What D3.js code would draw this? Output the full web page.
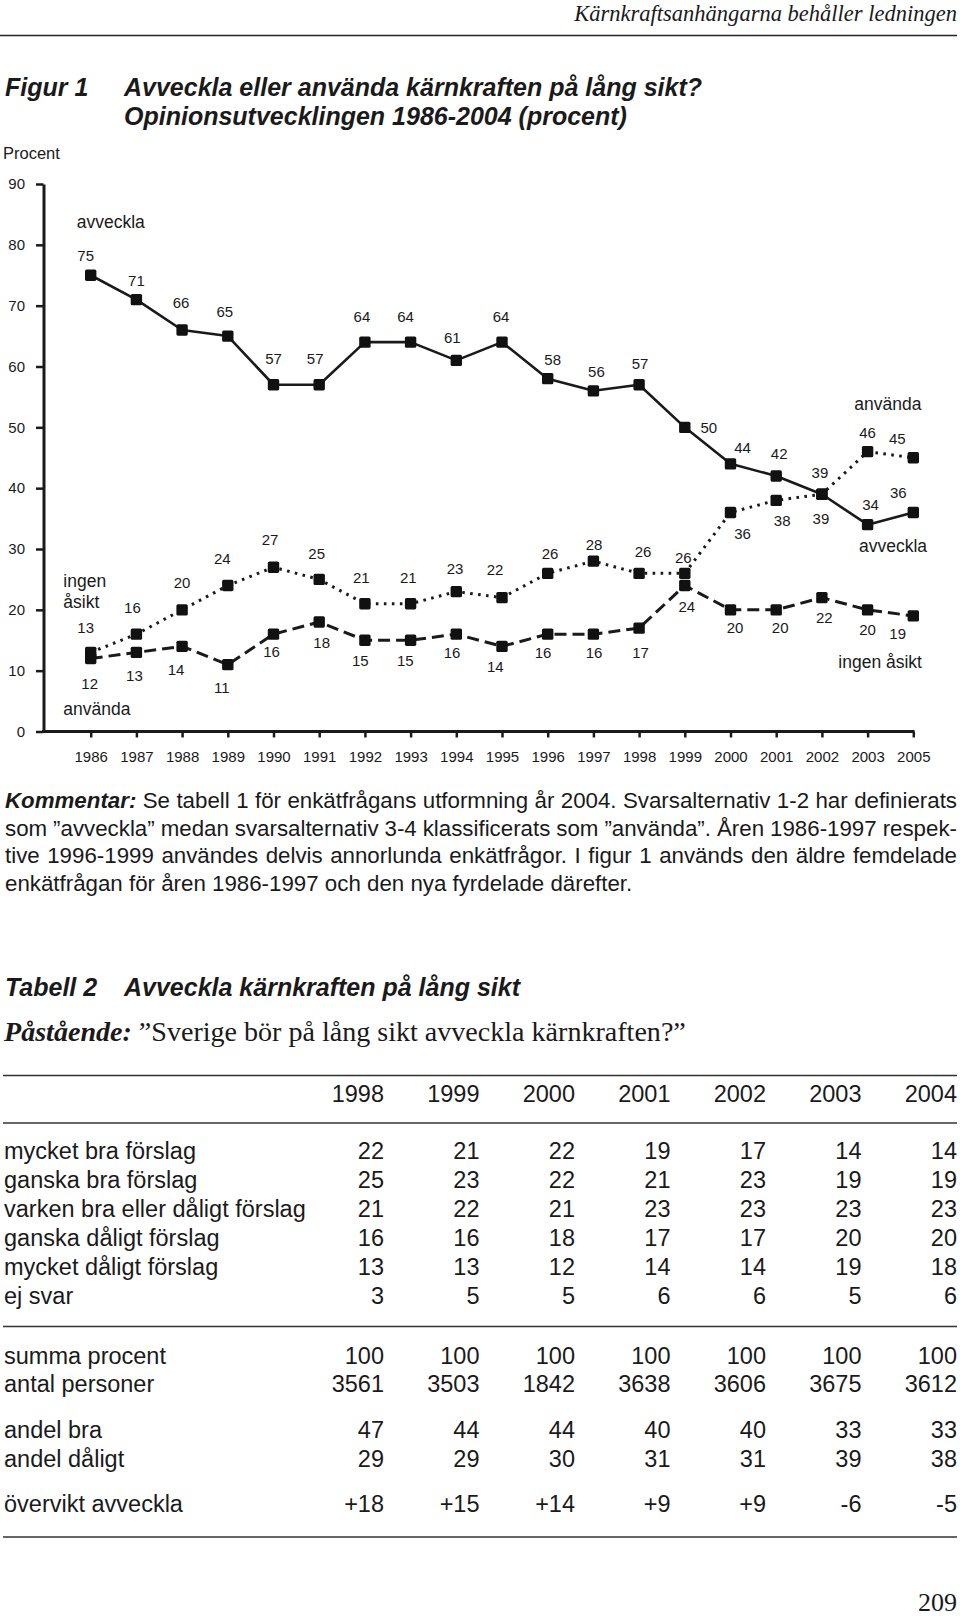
<!DOCTYPE html>
<html><head><meta charset="utf-8">
<script src="https://cdn.jsdelivr.net/npm/d3@7"></script>
<style>
html,body{margin:0;padding:0;background:#fff;}
svg{display:block;}
</style></head>
<body>
<svg id="page" width="960" height="1618"></svg>
<script>
// ---------- DATA ----------
const years = ['1986','1987','1988','1989','1990','1991','1992','1993','1994','1995','1996','1997','1998','1999','2000','2001','2002','2003','2005'];
const avveckla   = [75,71,66,65,57,57,64,64,61,64,58,56,57,50,44,42,39,34,36];
const anvanda    = [13,16,20,24,27,25,21,21,23,22,26,28,26,26,36,38,39,46,45];
const ingenAsikt = [12,13,14,11,16,18,15,15,16,14,16,16,17,24,20,20,22,20,19];
const yTicks = [0,10,20,30,40,50,60,70,80,90];

// label placement (dx, dy from the point, in px)
const avvecklaLabelOff = [[-5,-14],[0,-14],[-1,-22],[-3,-19],[0,-21],[-4,-21],[-3,-20],[-5,-20],[-4,-17],[-1,-20],[5,-14],[3,-14],[1,-16],[24,6],[12,-10.5],[3,-17],[-2,-16],[3,-15],[-15,-15]];
const anvandaLabelOff  = [[-5,-19],[-4,-21.5],[0,-21.5],[-5.5,-21.5],[-3.5,-22],[-2.5,-20],[-3.6,-21],[-2.3,-21],[-1.3,-18],[-7,-23],[2.3,-14],[0.6,-11],[4,-16],[-1.5,-10],[12,26],[6,26],[-1,30],[0,-13.5],[-16,-14]];
const ingenLabelOff    = [[-1,30],[-2,28.6],[-6,28.7],[-6,28],[-2,22.5],[2.5,25.7],[-4.6,25.7],[-5.3,25.7],[-4.3,24],[-6.7,26],[-4.7,24],[0.6,24],[1.4,30],[2,26],[4.5,23.5],[4,23.5],[2.4,25],[0,25],[-15.6,23.4]];

// series name annotations: [text, anchor category, dx px, value]
const seriesNames = [
  ['avveckla','1986',-14,82.8],
  ['ingen','1986',-27.4,23.7],
  ['åsikt','1986',-27.4,20.25],
  ['använda','1986',-27.4,2.7],
  ['använda','2003',-13.3,52.85],
  ['avveckla','2003',-8.6,29.55],
  ['ingen åsikt','2003',-29.3,10.4]
];

const headerText = 'Kärnkraftsanhängarna behåller ledningen';
const figLabel = 'Figur 1';
const figTitle = ['Avveckla eller använda kärnkraften på lång sikt?','Opinionsutvecklingen 1986-2004 (procent)'];
const yAxisTitle = 'Procent';
const commentLines = [
  'Kommentar: Se tabell 1 för enkätfrågans utformning år 2004. Svarsalternativ 1-2 har definierats',
  'som ”avveckla” medan svarsalternativ 3-4 klassificerats som ”använda”. Åren 1986-1997 respek-',
  'tive 1996-1999 användes delvis annorlunda enkätfrågor. I figur 1 används den äldre femdelade',
  'enkätfrågan för åren 1986-1997 och den nya fyrdelade därefter.'
];

const tabLabel = 'Tabell 2';
const tabTitle = 'Avveckla kärnkraften på lång sikt';
const claimLead = 'Påstående:';
const claimText = ' ”Sverige bör på lång sikt avveckla kärnkraften?”';
const tableYears = ['1998','1999','2000','2001','2002','2003','2004'];
const rowLabels1 = ['mycket bra förslag','ganska bra förslag','varken bra eller dåligt förslag','ganska dåligt förslag','mycket dåligt förslag','ej svar'];
const mycketBra    = [22,21,22,19,17,14,14];
const ganskaBra    = [25,23,22,21,23,19,19];
const varken       = [21,22,21,23,23,23,23];
const ganskaDaligt = [16,16,18,17,17,20,20];
const mycketDaligt = [13,13,12,14,14,19,18];
const ejSvar       = [3,5,5,6,6,5,6];
const summaProcent = [100,100,100,100,100,100,100];
const antalPersoner= [3561,3503,1842,3638,3606,3675,3612];
const andelBra     = [47,44,44,40,40,33,33];
const andelDaligt  = [29,29,30,31,31,39,38];
const overvikt     = ['+18','+15','+14','+9','+9','-6','-5'];
const pageNumber = '209';

// ---------- DRAW ----------
const sans = "'Liberation Sans', Arial, Helvetica, sans-serif";
const serif = "'Liberation Serif', 'Times New Roman', serif";
const ink = '#1a1a1a';
const svg = d3.select('#page');
svg.append('rect').attr('width',960).attr('height',1618).attr('fill','#fff');

function fit(sel, target){
  const len = sel.node().getComputedTextLength();
  const fs = parseFloat(sel.attr('font-size'));
  sel.attr('font-size', fs*target/len);
}

// header
const hdr = svg.append('text').attr('x',957).attr('y',21).attr('text-anchor','end')
  .attr('font-family',serif).attr('font-style','italic').attr('font-size',22).attr('fill',ink).text(headerText);
fit(hdr, 383);
svg.append('line').attr('x1',0).attr('x2',957).attr('y1',35.5).attr('y2',35.5).attr('stroke','#222').attr('stroke-width',1.6);

// figure title
const tStyle = s => s.attr('font-family',sans).attr('font-weight','bold').attr('font-style','italic').attr('font-size',25).attr('fill',ink);
svg.append('text').attr('x',5).attr('y',96).call(tStyle).text(figLabel);
figTitle.forEach((t,i)=> svg.append('text').attr('x',124).attr('y',96+29*i).call(tStyle).text(t));
svg.append('text').attr('x',3).attr('y',159).attr('font-family',sans).attr('font-size',16.5).attr('fill',ink).text(yAxisTitle);

// chart
const x = d3.scalePoint().domain(years).range([90.7,913.3]);
const y = d3.scaleLinear().domain([0,90]).range([731.5,184]);
const axisX0 = 43.5;

const gy = svg.append('g').attr('transform',`translate(${axisX0},0)`)
  .call(d3.axisLeft(y).tickValues(yTicks).tickSize(7.5).tickSizeOuter(0).tickPadding(11));
gy.select('.domain').attr('stroke',ink).attr('stroke-width',3);
gy.selectAll('.tick line').attr('stroke',ink).attr('stroke-width',2.5);
gy.selectAll('.tick text').attr('font-family',sans).attr('font-size',15).attr('fill',ink);

const gx = svg.append('g').attr('transform',`translate(0,${y(0)})`)
  .call(d3.axisBottom(x).tickSize(6).tickSizeOuter(0).tickPadding(13.5));
gx.select('.domain').remove();
gx.selectAll('.tick line').attr('stroke',ink).attr('stroke-width',2.5);
gx.selectAll('.tick text').attr('font-family',sans).attr('font-size',15).attr('fill',ink);
svg.append('line').attr('x1',axisX0-1.5).attr('x2',x('2005')+1.2).attr('y1',y(0)).attr('y2',y(0)).attr('stroke',ink).attr('stroke-width',3);

const line = d3.line().x((d,i)=>x(years[i])).y(d=>y(d));
const series = [
  {vals:avveckla, dash:null, w:2.6, off:avvecklaLabelOff},
  {vals:anvanda, dash:'2.6,5.4', w:3, off:anvandaLabelOff},
  {vals:ingenAsikt, dash:'12,6', w:3, off:ingenLabelOff}
];
series.forEach(s=>{
  svg.append('path').attr('d',line(s.vals)).attr('fill','none').attr('stroke',ink)
    .attr('stroke-width',s.w).attr('stroke-dasharray',s.dash).attr('stroke-linejoin','round');
});
series.forEach(s=>{
  svg.append('g').selectAll('rect').data(s.vals).join('rect')
    .attr('x',(d,i)=>x(years[i])-5.7).attr('y',d=>y(d)-5.7)
    .attr('width',11.4).attr('height',11.4).attr('rx',1.6).attr('fill','#111');
});
series.forEach(s=>{
  svg.append('g').selectAll('text').data(s.vals).join('text')
    .attr('x',(d,i)=>x(years[i])+s.off[i][0]).attr('y',(d,i)=>y(d)+s.off[i][1])
    .attr('text-anchor','middle').attr('font-family',sans).attr('font-size',15).attr('fill',ink)
    .text(d=>d);
});
svg.append('g').selectAll('text').data(seriesNames).join('text')
  .attr('x',d=>x(d[1])+d[2]).attr('y',d=>y(d[3]))
  .attr('font-family',sans).attr('font-size',17.5).attr('fill',ink).text(d=>d[0]);

// comment paragraph (justified)
const bodyFS = 22.3;
const measurer = svg.append('text').attr('font-family',sans).attr('font-size',bodyFS).attr('visibility','hidden');
function wordWidth(w, bold){
  measurer.attr('font-weight',bold?'bold':'normal').attr('font-style',bold?'italic':'normal').text(w);
  return measurer.node().getComputedTextLength();
}
const left = 5, right = 957;
commentLines.forEach((ln,li)=>{
  const words = ln.split(' ');
  const bolds = words.map(w=>w==='Kommentar:');
  const widths = words.map((w,i)=>wordWidth(w,bolds[i]));
  const total = d3.sum(widths);
  const last = li===commentLines.length-1;
  const gap = last ? wordWidth('a b',false)-wordWidth('ab',false) : (right-left-total)/(words.length-1);
  const t = svg.append('text').attr('y',808+27.6*li).attr('font-family',sans).attr('font-size',bodyFS).attr('fill',ink);
  let cx = left;
  words.forEach((w,i)=>{
    t.append('tspan').attr('x',cx).attr('font-weight',bolds[i]?'bold':null).attr('font-style',bolds[i]?'italic':null).text(w);
    cx += widths[i]+gap;
  });
});
measurer.remove();

// table 2
svg.append('text').attr('x',5).attr('y',996).call(tStyle).text(tabLabel);
svg.append('text').attr('x',124).attr('y',996).call(tStyle).text(tabTitle);
const claim = svg.append('text').attr('x',4).attr('y',1041).attr('font-family',serif).attr('font-size',28).attr('fill',ink);
claim.append('tspan').attr('font-weight','bold').attr('font-style','italic').text(claimLead);
claim.append('tspan').text(claimText);
fit(claim, 682);

const col = d3.scalePoint().domain(tableYears).range([384,957]);
const rule = yy => svg.append('line').attr('x1',3).attr('x2',957).attr('y1',yy).attr('y2',yy).attr('stroke','#333').attr('stroke-width',1.6);
rule(1075.5); rule(1123); rule(1326.5); rule(1537);

const tfs = 23.5;
const cell = (txt,xx,yy,anchor) => svg.append('text').attr('x',xx).attr('y',yy).attr('text-anchor',anchor)
  .attr('font-family',sans).attr('font-size',tfs).attr('fill',ink).text(txt);
tableYears.forEach(yr=>cell(yr,col(yr),1102,'end'));

const block1 = [mycketBra,ganskaBra,varken,ganskaDaligt,mycketDaligt,ejSvar];
const tableRows = [
  ...block1.map((v,i)=>({label:rowLabels1[i], vals:v, yy:1159+28.9*i})),
  {label:'summa procent', vals:summaProcent, yy:1363.5},
  {label:'antal personer', vals:antalPersoner, yy:1392},
  {label:'andel bra', vals:andelBra, yy:1438},
  {label:'andel dåligt', vals:andelDaligt, yy:1466.6},
  {label:'övervikt avveckla', vals:overvikt, yy:1512}
];
tableRows.forEach(r=>{
  cell(r.label,4,r.yy,'start');
  r.vals.forEach((v,i)=>cell(v,col(tableYears[i]),r.yy,'end'));
});

svg.append('text').attr('x',957).attr('y',1611).attr('text-anchor','end').attr('font-family',serif)
  .attr('font-size',26).attr('fill',ink).text(pageNumber);
</script>
</body></html>
